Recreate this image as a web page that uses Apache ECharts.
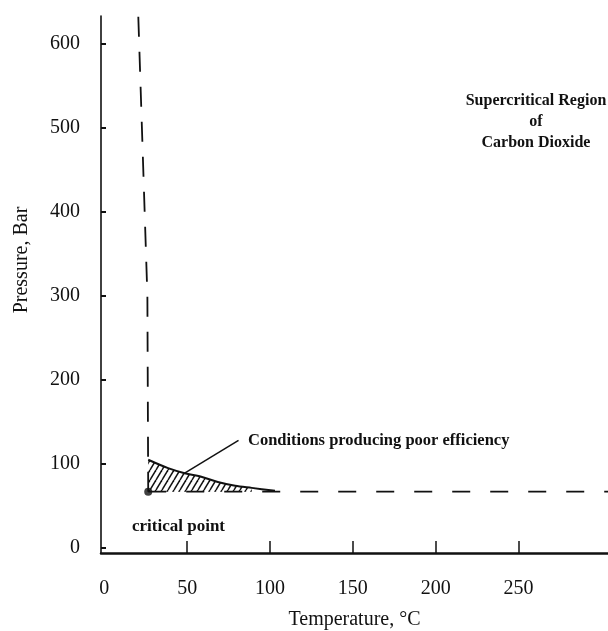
<!DOCTYPE html>
<html>

<head>
    <meta charset="utf-8" />
    <script src="https://cdn.jsdelivr.net/npm/echarts@6.0.0/dist/echarts.min.js"></script>
    <style>
        html, body { margin: 0; padding: 0; background: #fff; }
    </style>
</head>

<body>
    <div id="main" style="width: 608px; height: 631px;"></div>
    <script type="text/javascript">
        // 坐标轴刻度
        var tempLabels = [0, 50, 100, 150, 200, 250];
        var tempTicks = [50, 100, 150, 200, 250];
        var pressTicks = [0, 100, 200, 300, 400, 500, 600];

        // 临界点 (°C, bar)
        var criticalPoint = [26.5, 67];

        // 效率差的边界曲线
        var curveT = [26.5, 38.5, 48.5, 59, 68.5, 79, 89, 103];
        var curveP = [105, 95, 89, 84.5, 78.5, 74, 71.5, 68];

        // 超临界区边界（虚线）
        var verticalT = [26.5, 26, 20.5];
        var verticalP = [67, 300, 633];
        var horizontalT = [26.5, 304];
        var horizontalP = [67, 67];

        // 标注引线
        var calloutT = [48.5, 81];
        var calloutP = [89, 128];

        // 阴影区终点温度
        var hatchEndT = 89;

        function pairs(xs, ys) {
            return xs.map(function (x, i) { return [x, ys[i]]; });
        }

        // 斜线填充图案
        var hatch = document.createElement('canvas');
        hatch.width = 6;
        hatch.height = 10;
        var ctx = hatch.getContext('2d');
        ctx.strokeStyle = '#111';
        ctx.lineWidth = 1.5;
        for (var k = -1; k <= 1; k++) {
            ctx.beginPath();
            ctx.moveTo(k * 6, 10);
            ctx.lineTo(k * 6 + 6, 0);
            ctx.stroke();
        }

        var myChart = echarts.init(document.getElementById('main'), null, { renderer: 'canvas' });

        var serif = '"Liberation Serif", "DejaVu Serif", serif';
        var ink = '#111';

        var option = {
            animation: false,
            backgroundColor: '#fff',
            grid: {
                left: 101,
                right: 0,
                top: 16,
                bottom: 78,
                outerBoundsMode: 'none'
            },
            xAxis: {
                type: 'value',
                min: -2,
                max: 304,
                name: 'Temperature, °C',
                nameLocation: 'middle',
                nameGap: 57,
                nameTextStyle: { fontFamily: serif, fontSize: 20, color: ink },
                axisLine: { show: true, onZero: false, lineStyle: { color: ink, width: 2.5 } },
                axisTick: {
                    show: true,
                    inside: true,
                    length: 12,
                    customValues: tempTicks,
                    lineStyle: { color: ink, width: 1.5 }
                },
                axisLabel: {
                    customValues: tempLabels,
                    margin: 26,
                    fontFamily: serif,
                    fontSize: 20,
                    color: ink
                },
                splitLine: { show: false }
            },
            yAxis: {
                type: 'value',
                min: -6,
                max: 633,
                axisLine: { show: true, onZero: false, lineStyle: { color: ink, width: 1.6 } },
                axisTick: {
                    show: true,
                    inside: true,
                    length: 5,
                    customValues: pressTicks,
                    lineStyle: { color: ink, width: 2 }
                },
                axisLabel: {
                    customValues: pressTicks,
                    margin: 21,
                    fontFamily: serif,
                    fontSize: 20,
                    color: ink
                },
                splitLine: { show: false }
            },
            graphic: [
                {
                    type: 'text',
                    x: 22,
                    y: 260,
                    rotation: Math.PI / 2,
                    style: {
                        text: 'Pressure, Bar',
                        font: '20px ' + serif,
                        fill: ink,
                        align: 'center',
                        verticalAlign: 'middle'
                    }
                },
                {
                    type: 'text',
                    x: 536,
                    y: 90,
                    style: {
                        text: 'Supercritical Region\nof\nCarbon Dioxide',
                        font: 'bold 16px ' + serif,
                        lineHeight: 21,
                        fill: ink,
                        align: 'center',
                        verticalAlign: 'top'
                    }
                },
                {
                    type: 'text',
                    x: 248,
                    y: 441,
                    style: {
                        text: 'Conditions producing poor efficiency',
                        font: 'bold 16.5px ' + serif,
                        fill: ink,
                        align: 'left',
                        verticalAlign: 'middle'
                    }
                },
                {
                    type: 'text',
                    x: 132,
                    y: 527,
                    style: {
                        text: 'critical point',
                        font: 'bold 17px ' + serif,
                        fill: ink,
                        align: 'left',
                        verticalAlign: 'middle'
                    }
                }
            ],
            series: [
                {
                    // 阴影区
                    type: 'custom',
                    data: [criticalPoint],
                    silent: true,
                    z: 1,
                    renderItem: function (params, api) {
                        var pts = [];
                        for (var i = 0; i < curveT.length; i++) {
                            if (curveT[i] <= hatchEndT) {
                                pts.push(api.coord([curveT[i], curveP[i]]));
                            }
                        }
                        pts.push(api.coord([hatchEndT, criticalPoint[1]]));
                        pts.push(api.coord(criticalPoint));
                        return {
                            type: 'polygon',
                            shape: { points: pts },
                            style: { fill: { image: hatch, repeat: 'repeat' }, stroke: null }
                        };
                    }
                },
                {
                    type: 'line',
                    data: pairs(verticalT, verticalP),
                    symbol: 'none',
                    lineStyle: { color: ink, width: 1.8, type: [20, 15] },
                    z: 2
                },
                {
                    type: 'line',
                    data: pairs(horizontalT, horizontalP),
                    symbol: 'none',
                    lineStyle: { color: ink, width: 1.8, type: [18, 20] },
                    z: 2
                },
                {
                    type: 'line',
                    data: pairs(curveT, curveP),
                    symbol: 'none',
                    smooth: 0.3,
                    lineStyle: { color: ink, width: 2 },
                    z: 3
                },
                {
                    type: 'line',
                    data: pairs(calloutT, calloutP),
                    symbol: 'none',
                    lineStyle: { color: ink, width: 1.5 },
                    z: 3
                },
                {
                    type: 'scatter',
                    data: [criticalPoint],
                    symbol: 'circle',
                    symbolSize: 8,
                    itemStyle: { color: ink },
                    z: 4
                }
            ]
        };

        myChart.setOption(option);
    </script>
</body>

</html>
